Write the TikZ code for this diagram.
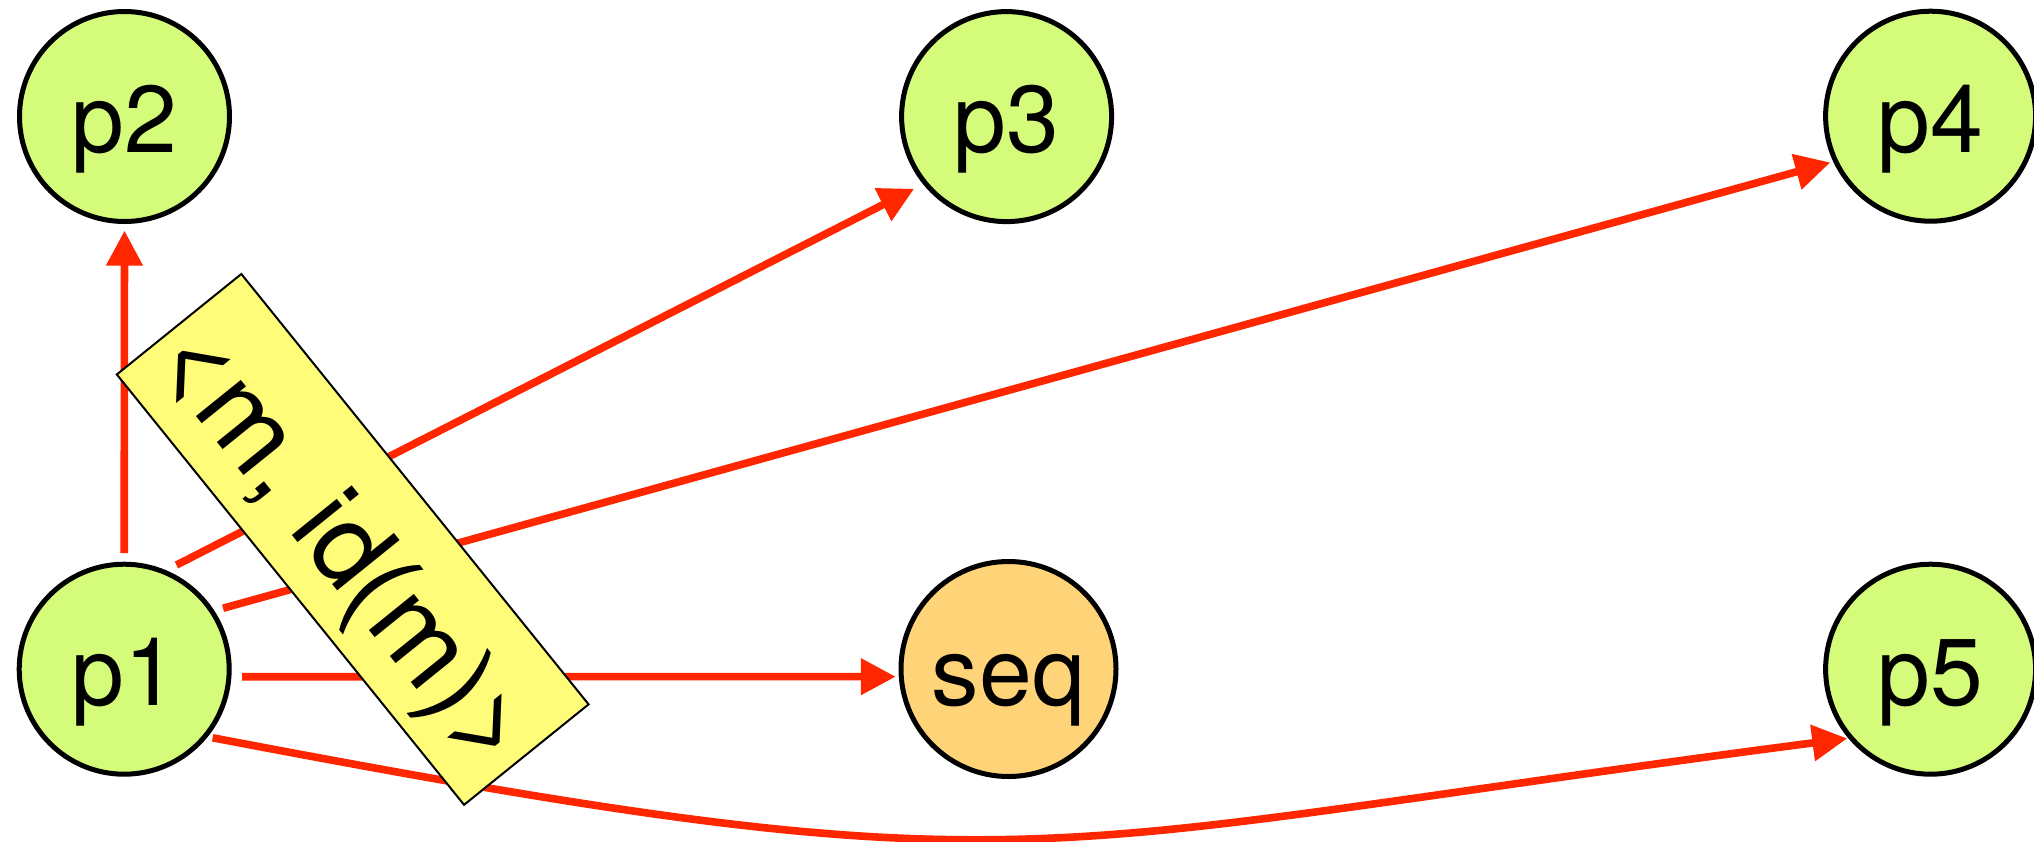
\documentclass[tikz,border=0pt]{standalone}
\usepackage{fontspec}
\setmainfont{TeX Gyre Heros}
\usetikzlibrary{arrows.meta}
\definecolor{honeydew}{RGB}{212,251,121}
\definecolor{cantaloupe}{RGB}{255,212,121}
\definecolor{banana}{RGB}{255,252,121}
\definecolor{maraschino}{RGB}{255,38,0}
\begin{document}
\begin{tikzpicture}[x=0.5pt,y=-0.5pt,
  place/.style={circle, draw=black, line width=2.5pt, fill=honeydew, minimum size=105pt,
    inner sep=0pt, font=\fontsize{47.5}{57}\selectfont, text height=36pt, text depth=0pt},
  edge/.style={draw=maraschino, line width=3.8pt, -{Triangle[length=17.5pt,width=17.5pt]}},
  tag/.style={draw=black, line width=1pt, fill=banana, minimum width=276.5pt,
    minimum height=80pt, inner sep=0pt, font=\fontsize{55}{66}\selectfont,
    text height=44pt, text depth=0pt}]
\useasboundingbox (0,0) rectangle (2034,841);
\node[place] (p2) at (124.5,116.5) {p2};
\node[place] (p3) at (1006.6,116.6) {p3};
\node[place] (p4) at (1930.6,116.2) {p4};
\node[place] (p1) at (124.2,669.2) {p1};
\node[place, fill=cantaloupe, minimum size=107.5pt] (seq) at (1008.5,669) {seq};
\node[place] (p5) at (1930.6,669.2) {p5};
\draw[edge, shorten <=4.3pt, shorten >=3.3pt] (p1.north) -- (p2.south);
\draw[edge, shorten <=5.75pt, shorten >=5pt] (p1.67.5) -- (p3.219.9);
\draw[edge, shorten <=4.5pt, shorten >=1.5pt] (p1.33.2) -- (p4.205.5);
\draw[edge, shorten <=5.3pt, shorten >=1.5pt] (p1.-4.8) -- (seq.184.85);
\draw[edge, shorten <=2.5pt, shorten >=0.5pt] (p1.-39) .. controls +(840,160) and +(-840,109) .. (p5.-140);
\node[tag, rotate=-51.1] (lbl) at (352.7,539.4) {<m, id(m)>};
\end{tikzpicture}
\end{document}
